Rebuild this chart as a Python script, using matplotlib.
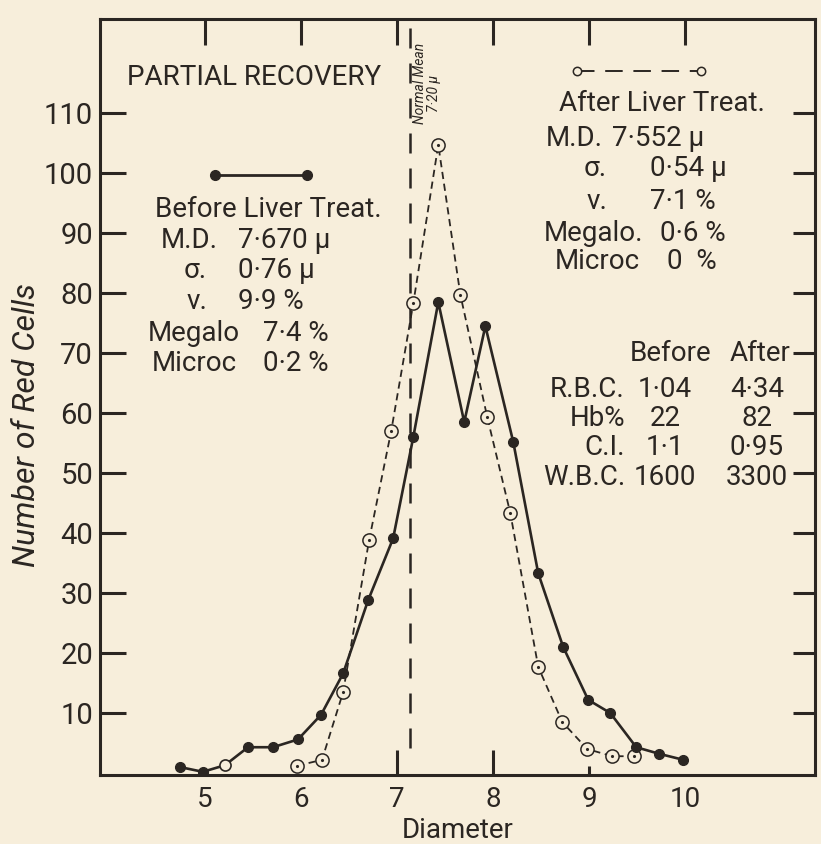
import matplotlib
matplotlib.use("Agg")
import matplotlib.pyplot as plt
from matplotlib.lines import Line2D

# Price-Jones curve: cell diameter (micron) vs number of red cells
before_diam = [4.74, 4.98, 5.21, 5.45, 5.71, 5.97, 6.21, 6.44, 6.70, 6.96, 7.17,
               7.43, 7.70, 7.92, 8.21, 8.47, 8.73, 8.99, 9.22, 9.49, 9.73, 9.98]
before_count = [1.0, 0.2, 1.3, 4.3, 4.3, 5.6, 9.7, 16.6, 28.8, 39.1, 56.0,
                78.5, 58.5, 74.5, 55.2, 33.3, 21.0, 12.2, 10.0, 4.3, 3.2, 2.2]
before_open = [2]  # point printed hollow on the solid curve

after_diam = [5.96, 6.22, 6.44, 6.71, 6.94, 7.17, 7.43, 7.66, 7.94, 8.18,
              8.47, 8.72, 8.98, 9.24, 9.47]
after_count = [1.2, 2.2, 13.5, 38.8, 57.0, 78.3, 104.7, 79.7, 59.3, 43.3,
               17.7, 8.5, 4.0, 2.8, 2.8]

normal_mean = 7.14
normal_line_bottom = 4.2

x_ticks = [5, 6, 7, 8, 9, 10]
y_ticks = [10, 20, 30, 40, 50, 60, 70, 80, 90, 100, 110]

before_stats = [("M.D.", "7·670 μ"), ("σ.", "0·76 μ"), ("ν.", "9·9 %"),
                ("Megalo", "7·4 %"), ("Microc", "0·2 %")]
after_stats = [("M.D.", "7·552 μ"), ("σ.", "0·54 μ"), ("ν.", "7·1 %"),
               ("Megalo.", "0·6 %"), ("Microc", "0  %")]
blood_rows = ["R.B.C.", "Hb%", "C.I.", "W.B.C."]
blood_before = ["1·04", "22", "1·1", "1600"]
blood_after = ["4·34", "82", "0·95", "3300"]

paper = "#f7eedb"
ink = "#2b2622"

plt.rcParams["font.family"] = ["Roboto", "DejaVu Sans"]

W, H = 821, 844
fig = plt.figure(figsize=(W / 100, H / 100), dpi=100, facecolor=paper)
ax = fig.add_axes([100 / W, 1 - 775 / H, 715 / W, 756 / H], facecolor=paper)


def at(px, py):
    # reference pixel -> figure fraction
    return px / W, 1 - py / H


# curves
ax.plot(before_diam, before_count, color=ink, lw=1.9, zorder=3)
keep = [i for i in range(len(before_diam)) if i not in before_open]
ax.plot([before_diam[i] for i in keep], [before_count[i] for i in keep],
        ls="none", marker="o", ms=7, color=ink, zorder=4)
ax.plot([before_diam[i] for i in before_open], [before_count[i] for i in before_open],
        ls="none", marker="o", ms=8, mfc=paper, mec=ink, mew=1.2, zorder=4)

ax.plot(after_diam, after_count, color=ink, lw=1.3, ls=(0, (4, 2.6)), zorder=2)
ax.plot(after_diam, after_count, ls="none", marker="o", ms=9.5,
        mfc=paper, mec=ink, mew=1.1, zorder=3)
ax.plot(after_diam, after_count, ls="none", marker=".", ms=2.5, color=ink, zorder=3)

# normal mean marker line
ax.vlines(normal_mean, normal_line_bottom, 126, color=ink, lw=1.8,
          linestyles=[(0, (8, 6))], zorder=1)

ax.set_xlim(3.91, 11.35)
ax.set_ylim(-0.33, 125.7)

for s in ax.spines.values():
    s.set_linewidth(2.2)
    s.set_color(ink)

ax.set_xticks(x_ticks)
ax.set_yticks(y_ticks)
ax.tick_params(direction="in", top=True, right=True, width=2.2, color=ink,
               labelsize=21, labelcolor=ink)
ax.tick_params(axis="x", length=19, pad=8, labelsize=20)
ax.tick_params(axis="y", length=19, pad=5)

bottom_len = {7: 18, 8: 18, 9: 6.5}
for val, t in zip(x_ticks, ax.xaxis.get_major_ticks()):
    t.tick1line.set_markersize(bottom_len.get(val, 0))
for t in ax.yaxis.get_major_ticks():
    t.tick2line.set_markersize(16)

fig.text(*at(27, 425), "Number of Red Cells", rotation=90, ha="center",
         va="center", fontsize=23, style="italic", color=ink)
fig.text(*at(458, 830), "Diameter", ha="center", va="center", fontsize=20, color=ink)

# legend keys
solid_key = Line2D([], [], color=ink, lw=2, marker="o", ms=7)
dash_key = Line2D([], [], color=ink, lw=1.4, ls=(0, (9, 5.5)), marker="o",
                  ms=6, mfc=paper, mec=ink, mew=1.1)
leg1 = ax.legend([solid_key], [""], numpoints=2, handlelength=7.2, fontsize=10,
                 loc="center", bbox_to_anchor=((261 - 100) / 715, (775 - 176) / 756),
                 frameon=False, handletextpad=0, borderpad=0, borderaxespad=0)
ax.add_artist(leg1)
ax.legend([dash_key], [""], numpoints=2, handlelength=9.5, fontsize=10,
          loc="center", bbox_to_anchor=((639 - 100) / 715, (775 - 72) / 756),
          frameon=False, handletextpad=0, borderpad=0, borderaxespad=0)

txt = dict(fontsize=20, color=ink, va="baseline")

fig.text(*at(254, 85), "PARTIAL RECOVERY", ha="center", **txt)

# Before block: labels right-aligned, values left-aligned
fig.text(*at(268, 217), "Before Liver Treat.", ha="center", **txt)
label_r = [218, 207, 207, 240, 237]
value_x = [238, 238, 238, 263, 263]
base_y = [248, 278, 309, 341, 371]
for (lab, val), lx, vx, by in zip(before_stats, label_r, value_x, base_y):
    fig.text(*at(lx, by), lab, ha="right", **txt)
    fig.text(*at(vx, by), val, ha="left", **txt)

# After block
fig.text(*at(662, 111), "After Liver Treat.", ha="center", **txt)
label_r = [603, 607, 607, 643, 640]
value_x = [612, 650, 650, 660, 667]
base_y = [146, 176, 209, 241, 269]
for (lab, val), lx, vx, by in zip(after_stats, label_r, value_x, base_y):
    fig.text(*at(lx, by), lab, ha="right", **txt)
    fig.text(*at(vx, by), val, ha="left", **txt)

# blood counts table
fig.text(*at(671, 361), "Before", ha="center", **txt)
fig.text(*at(760, 361), "After", ha="center", **txt)
for lab, b, a, by in zip(blood_rows, blood_before, blood_after, [397, 426, 455, 485]):
    fig.text(*at(625, by), lab, ha="right", **txt)
    fig.text(*at(665, by), b, ha="center", **txt)
    fig.text(*at(757, by), a, ha="center", **txt)

# normal mean label along the dashed line
fig.text(*at(420, 83), "Normal Mean", rotation=90, ha="center", va="center",
         fontsize=10, style="italic", color=ink)
fig.text(*at(434, 93), "7·20 μ", rotation=90, ha="center", va="center",
         fontsize=10, style="italic", color=ink)

fig.savefig("out.png", dpi=100, facecolor=paper)
